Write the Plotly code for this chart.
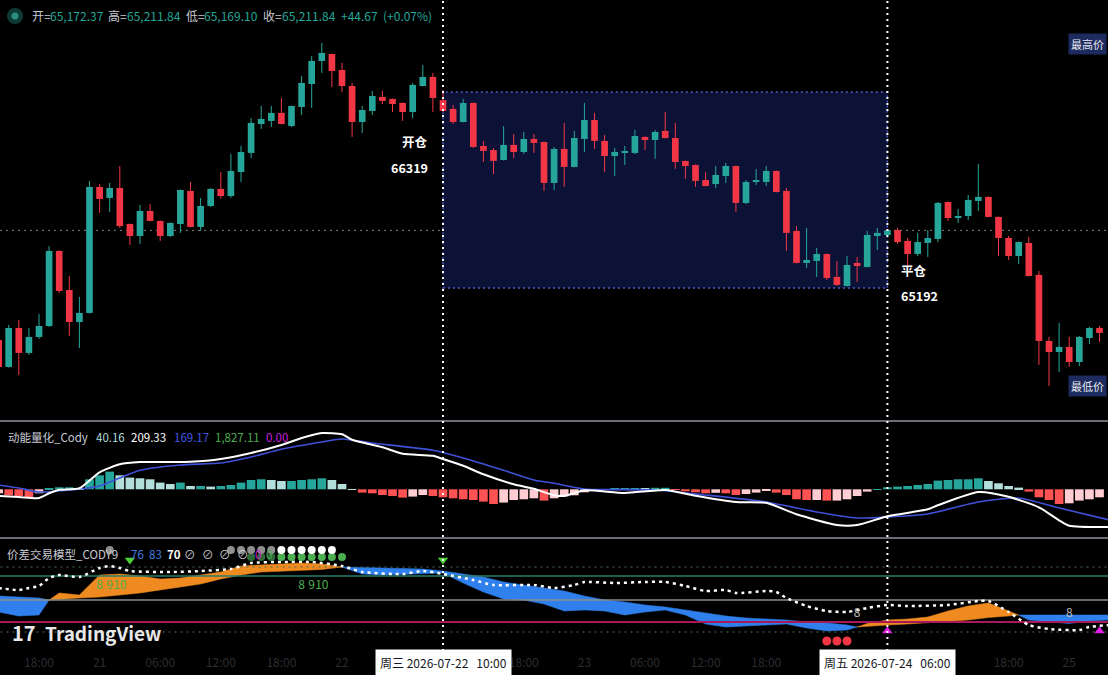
import plotly.graph_objects as go
import pandas as pd

W, H = 1108, 675
FONT = "Noto Sans CJK SC, Noto Sans, DejaVu Sans, sans-serif"

# ---------------- data ----------------
TIMES = pd.date_range("2026-07-20 14:00", periods=111, freq="h")

OPEN = [64280, 64051, 64382, 64170, 64306, 64399, 65037, 64705, 64433, 64510,
        65581, 65487, 65572, 65266, 65164, 65377, 65292, 65164, 65266, 65547,
        65241, 65419, 65564, 65504, 65708, 65870, 66116, 66142, 66210, 66099,
        66261, 66456, 66652, 66711, 66575, 66439, 66133, 66227, 66346, 66329,
        66295, 66218, 66439, 66516, 66319, 66244, 66133, 66295, 65929, 65895,
        65810, 65938, 65878, 65989, 65963, 65615, 65904, 65751, 65989, 66150,
        65972, 65844, 65870, 65870, 66006, 65980, 66057, 65997, 65802, 65768,
        65640, 65606, 65674, 65759, 65445, 65623, 65623, 65717, 65547, 65207,
        64935, 64952, 65011, 64816, 64739, 64935, 64901, 65164, 65172.37, 65215,
        65122, 65011, 65105, 65139, 65453, 65317, 65334, 65462, 65496, 65326,
        65147, 64994, 65105, 64833, 64272, 64178, 64221, 64093, 64297, 64382]
HIGH = [64408, 64408, 64450, 64382, 64501, 65079, 65042, 64824, 64646, 65632,
        65606, 65615, 65759, 65270, 65428, 65436, 65296, 65279, 65559, 65623,
        65487, 65572, 65708, 65861, 65929, 66167, 66269, 66269, 66337, 66273,
        66524, 66694, 66805, 66715, 66635, 66465, 66269, 66397, 66397, 66333,
        66299, 66465, 66618, 66550, 66405, 66278, 66329, 66299, 65972, 65912,
        66099, 66031, 66048, 66031, 65967, 65921, 66125, 66057, 66295, 66210,
        66023, 65912, 65929, 66065, 66010, 66065, 66218, 66125, 65806, 65772,
        65708, 65759, 65785, 65763, 65640, 65734, 65759, 65721, 65572, 65249,
        65232, 65062, 65015, 64952, 64994, 64986, 65207, 65232, 65211.84, 65232,
        65147, 65190, 65215, 65453, 65457, 65394, 65513, 65776, 65500, 65330,
        65164, 65117, 65156, 64867, 64306, 64425, 64306, 64314, 64391, 64399]
LOW = [64008, 64045, 63983, 64153, 64289, 64391, 64680, 64314, 64212, 64505,
       65360, 65368, 65232, 65088, 65096, 65288, 65122, 65156, 65190, 65237,
       65207, 65411, 65479, 65487, 65623, 65827, 66074, 66091, 66112, 66091,
       66193, 66252, 66550, 66431, 66388, 66006, 66040, 66193, 66286, 66218,
       66142, 66167, 66435, 66218, 66218, 66116, 66129, 65912, 65793, 65691,
       65806, 65827, 65861, 65870, 65547, 65555, 65581, 65747, 65878, 65904,
       65708, 65674, 65768, 65861, 65895, 65819, 65993, 65734, 65649, 65581,
       65585, 65572, 65615, 65368, 65436, 65598, 65589, 65534, 65037, 64931,
       64892, 64816, 64790, 64739, 64735, 64773, 64897, 65045, 65169.10, 65096,
       64850, 64994, 64986, 65113, 65292, 65275, 65300, 65377, 65322, 64994,
       64960, 64926, 64820, 64068, 63889, 64008, 64051, 64059, 64246, 64263]
CLOSE = [64051, 64382, 64170, 64306, 64399, 65037, 64697, 64433, 64510, 65581,
         65479, 65572, 65249, 65164, 65377, 65292, 65164, 65275, 65555, 65241,
         65419, 65564, 65504, 65717, 65878, 66125, 66159, 66210, 66116, 66269,
         66465, 66652, 66720, 66567, 66439, 66133, 66235, 66354, 66312, 66286,
         66218, 66448, 66516, 66337, 66227, 66133, 66295, 65921, 65887, 65802,
         65938, 65878, 65989, 65955, 65615, 65904, 65751, 65997, 66150, 65972,
         65844, 65878, 65878, 66014, 65980, 66048, 65997, 65793, 65759, 65632,
         65589, 65683, 65759, 65445, 65623, 65632, 65717, 65538, 65190, 64935,
         64960, 65011, 64807, 64748, 64918, 64909, 65173, 65190, 65211.84, 65113,
         65011, 65113, 65147, 65445, 65317, 65334, 65470, 65496, 65326, 65147,
         64994, 65113, 64824, 64272, 64178, 64221, 64093, 64306, 64382, 64340]

# momentum pane (动能量化_Cody)
MOM_HIST = [-40, -60, -70, -80, -40, 10, 20, 20, 10, 100,
            140, 177, 140, 117, 110, 100, 67, 53, 67, 33,
            33, 27, 33, 43, 67, 93, 100, 93, 83, 83,
            93, 100, 110, 93, 53, 3, -33, -40, -57, -67,
            -83, -73, -57, -67, -80, -90, -100, -107, -123, -147,
            -133, -107, -100, -90, -113, -90, -70, -60, -30, -10,
            -5, 5, 5, 10, 5, 15, 15, -5, -20, -30,
            -40, -35, -40, -57, -47, -33, -17, -33, -57, -100,
            -107, -107, -113, -113, -100, -67, -23, 3, 20, 27,
            33, 43, 53, 87, 93, 100, 100, 110, 83, 60,
            33, 17, -23, -80, -107, -147, -140, -113, -100, -80]
FAST_IDX = [0, 2, 4, 5, 6, 8, 10, 12, 14, 17, 19, 22, 25, 28, 30, 32, 34, 35, 38, 40,
            43, 44, 46, 48, 51, 53, 55, 56, 58, 62, 66, 69, 73, 76, 79, 83, 85, 88, 92, 93,
            97, 100, 103, 105, 106, 110]
FAST = [-67, -77, -87, -40, -5, 10, 170, 250, 272, 273, 275, 303, 363, 443, 513, 563, 550, 495, 420, 355,
        335, 303, 235, 150, 50, 5, -60, -67, -10, -37, -7, -65, -127, -135, -250, -357, -357, -270, -200, -160,
        -27, -75, -180, -310, -365, -378]
SLOW_IDX = [0, 2, 4, 8, 10, 12, 14, 18, 22, 25, 28, 32, 34, 37, 43, 46, 50, 53, 55, 58,
            65, 70, 76, 81, 85, 88, 92, 97, 101, 105, 110]
SLOW = [43, 13, -27, 3, 33, 113, 190, 243, 263, 323, 400, 473, 503, 463, 390, 313, 190, 93, 60, 3,
        -7, -57, -127, -227, -287, -277, -247, -127, -87, -187, -307]

# spread pane (价差交易模型_CODY)
SPR_IDX = [0, 2, 4, 5, 6, 8, 10, 12, 14, 16, 18, 20, 22, 24, 26, 28, 30, 32, 34,
           36, 38, 40, 42, 44, 46, 48, 50, 52, 54, 56, 58, 60, 62, 64, 66, 68, 70, 72, 74, 76, 78, 80, 82, 84,
           85, 86, 88, 90, 92, 94, 96, 98, 100, 101, 102, 104, 106, 108, 110]
SPR_FAST = [38, 34, 35, 50, 57, 55, 75, 76, 74, 71, 72, 75, 78, 84, 85, 86, 87, 86, 83,
            76, 75, 75.5, 76, 77, 67, 58, 51, 50, 46, 39, 40, 39, 35, 38, 40, 35, 26, 23, 24, 25, 26, 22, 19, 20,
            23, 26.5, 30, 31, 33, 39, 44, 47, 39, 35, 30, 28, 26.5, 29, 30]
SPR_SLOW = [54, 53, 52, 50, 51, 52, 53, 55, 57, 60, 63, 66, 71, 75, 78, 79, 79.5, 80.5, 83,
            82.5, 82, 81.5, 81, 79, 76, 73, 68, 65, 62, 59, 54, 50, 48, 45, 43, 40, 37, 34, 32, 31, 30, 28, 27, 25,
            23, 24, 25, 26, 27, 28.5, 30, 32.5, 34, 35, 35, 35, 35, 35, 35]
SPR_MID_IDX = [0, 2, 3, 4, 5, 6, 8, 10, 11, 12, 13, 17, 20, 23, 25, 28, 31, 34, 36, 40,
               42, 44, 47, 49, 53, 55, 57, 58, 61, 64, 66, 68, 70, 72, 73, 76, 77, 78, 80, 82,
               84, 86, 88, 90, 94, 97, 98, 100, 102, 104, 107, 108, 110]
SPR_MID = [62, 60, 62, 64, 72, 75, 73, 82, 84, 82, 79, 78, 79, 81, 87, 88, 88, 84, 78, 76,
           79, 76, 70, 65, 65, 62, 65, 68, 67, 68, 68, 64, 59, 60, 57, 59, 58, 52, 44, 39,
           38, 42, 45, 44, 45, 49, 49, 38, 25, 21, 20, 23, 25]
SPR_LEVELS = [83, 74, 50, 28, 18]
TOP_GRAY_IDX = [11, 23, 24, 25, 26, 27]
TOP_WHITE_IDX = [28, 29, 30, 31, 32, 33]
GREEN_DOT_IDX = [25, 26, 27, 28, 29, 30, 31, 32, 33, 34]
DOWN_TRI_IDX = [13, 44]
UP_TRI_IDX = [88, 109]
RED_DOT_IDX = [82, 83, 84]
COUNT_IDX = [10, 11, 12, 30, 31, 32]
COUNT_TXT = ["8", "9", "10", "8", "9", "10"]
COUNT2_IDX = [85, 106]
COUNT2_TXT = ["8", "8"]

ENTRY_IDX, EXIT_IDX = 44, 88
ENTRY_PRICE, EXIT_PRICE = 66319, 65192
RANGE_HIGH, RANGE_LOW = 66388, 64722
CROSS_PRICE = 65211.84

TICK_IDX = [4, 10, 16, 22, 28, 34, 52, 58, 64, 70, 76, 100, 106]
TICK_TEXT = ["18:00", "21", "06:00", "12:00", "18:00", "22", "18:00",
             "23", "06:00", "12:00", "18:00", "18:00", "25"]

# ---------------- style ----------------
GREEN = "#26a69a"
RED = "#f23645"
ORANGE = "#ee8a1f"
BLUE = "#2f80ed"
HOUR = 3600 * 1000


def px(x):
    return x / W


def py(y):
    return 1 - y / H


t = list(TIMES)
N = len(OPEN)
fig = go.Figure()

# ---- candles ----
up = [i for i in range(N) if CLOSE[i] >= OPEN[i]]
dn = [i for i in range(N) if CLOSE[i] < OPEN[i]]
for ids, col in ((up, GREEN), (dn, RED)):
    xs, ys = [], []
    for i in ids:
        xs += [t[i], t[i], None]
        ys += [LOW[i], HIGH[i], None]
    fig.add_trace(go.Scatter(x=xs, y=ys, mode="lines", line=dict(color=col, width=1),
                             yaxis="y", hoverinfo="skip"))
    fig.add_trace(go.Bar(x=[t[i] for i in ids],
                         y=[max(abs(CLOSE[i] - OPEN[i]), 9) for i in ids],
                         base=[min(OPEN[i], CLOSE[i]) for i in ids],
                         width=0.66 * HOUR, marker=dict(color=col, line=dict(width=0)),
                         yaxis="y", hoverinfo="skip"))

# ---- momentum pane ----
hcols = []
for i, v in enumerate(MOM_HIST):
    prev = MOM_HIST[i - 1] if i > 0 else v
    if v >= 0:
        hcols.append("#26a69a" if v >= prev else "#b2dfdb")
    else:
        hcols.append("#ffcdd2" if v >= prev else "#ff5252")
fig.add_trace(go.Bar(x=t[:N], y=MOM_HIST, width=0.86 * HOUR, marker=dict(color=hcols, line=dict(width=0)),
                     yaxis="y2", hoverinfo="skip"))
fig.add_trace(go.Scatter(x=[t[i] for i in SLOW_IDX], y=SLOW, mode="lines",
                         line=dict(color="#3f51d9", width=1.6, shape="spline", smoothing=0.6),
                         yaxis="y2", hoverinfo="skip"))
fig.add_trace(go.Scatter(x=[t[i] for i in FAST_IDX], y=FAST, mode="lines",
                         line=dict(color="#ffffff", width=2, shape="spline", smoothing=0.6),
                         yaxis="y2", hoverinfo="skip"))

# ---- spread pane ----
cuts = [0] + [k for k in range(1, len(SPR_IDX) - 1) if SPR_FAST[k] == SPR_SLOW[k]] + [len(SPR_IDX) - 1]
for s, e in zip(cuts[:-1], cuts[1:]):
    ks = list(range(s, e + 1))
    mid = ks[len(ks) // 2]
    col = ORANGE if SPR_FAST[mid] > SPR_SLOW[mid] else BLUE
    xs = [t[SPR_IDX[k]] for k in ks] + [t[SPR_IDX[k]] for k in reversed(ks)]
    ys = [SPR_FAST[k] for k in ks] + [SPR_SLOW[k] for k in reversed(ks)]
    fig.add_trace(go.Scatter(x=xs, y=ys, mode="lines", fill="toself", fillcolor=col,
                             line=dict(color=col, width=0.5), yaxis="y3", hoverinfo="skip"))

lvl_style = [("#50705c", "2px,4px", 1), ("#2a7d6c", "solid", 1.5), ("#8c8c8c", "solid", 1.5),
             ("#a8195c", "solid", 2), ("#50705c", "2px,4px", 1)]
for lv, (c, d, w) in zip(SPR_LEVELS, lvl_style):
    fig.add_trace(go.Scatter(x=[t[0] - pd.Timedelta(hours=1), t[-1] + pd.Timedelta(hours=1)], y=[lv, lv],
                             mode="lines", line=dict(color=c, dash=d, width=w), yaxis="y3", hoverinfo="skip"))

fig.add_trace(go.Scatter(x=[t[i] for i in SPR_MID_IDX], y=SPR_MID, mode="lines",
                         line=dict(color="#ffffff", width=2.5, dash="3px,4px", shape="spline", smoothing=0.6),
                         yaxis="y3", hoverinfo="skip"))

green_cols = ["#2e6a38" if i in TOP_GRAY_IDX else "#4caf50" for i in GREEN_DOT_IDX]
fig.add_trace(go.Scatter(x=[t[i] for i in GREEN_DOT_IDX], y=[93] * len(GREEN_DOT_IDX), mode="markers",
                         marker=dict(color=green_cols, size=8, line=dict(width=0)), yaxis="y3", hoverinfo="skip"))
fig.add_trace(go.Scatter(x=[t[i] for i in TOP_GRAY_IDX], y=[100] * len(TOP_GRAY_IDX), mode="markers",
                         marker=dict(color="#8f8f8f", size=8, line=dict(width=0)), yaxis="y3", hoverinfo="skip"))
fig.add_trace(go.Scatter(x=[t[i] for i in TOP_WHITE_IDX], y=[100] * len(TOP_WHITE_IDX), mode="markers",
                         marker=dict(color="#ffffff", size=8, line=dict(width=0)), yaxis="y3", hoverinfo="skip"))
fig.add_trace(go.Scatter(x=[t[i] for i in DOWN_TRI_IDX], y=[90] * len(DOWN_TRI_IDX), mode="markers",
                         marker=dict(color="#4cd137", size=9, symbol="triangle-down", line=dict(width=0)),
                         yaxis="y3", hoverinfo="skip"))
fig.add_trace(go.Scatter(x=[t[i] for i in UP_TRI_IDX], y=[19] * len(UP_TRI_IDX), mode="markers",
                         marker=dict(color="#e21fe6", size=9, symbol="triangle-up", line=dict(width=0)),
                         yaxis="y3", hoverinfo="skip"))
fig.add_trace(go.Scatter(x=[t[i] for i in RED_DOT_IDX], y=[9] * len(RED_DOT_IDX), mode="markers",
                         marker=dict(color="#f23645", size=9, line=dict(width=0)), yaxis="y3", hoverinfo="skip"))
fig.add_trace(go.Scatter(x=[t[i] for i in COUNT_IDX], y=[64] * len(COUNT_IDX), mode="text", text=COUNT_TXT,
                         textfont=dict(color="#4caf50", size=12, family=FONT), yaxis="y3", hoverinfo="skip"))
fig.add_trace(go.Scatter(x=[t[i] for i in COUNT2_IDX], y=[36] * len(COUNT2_IDX), mode="text", text=COUNT2_TXT,
                         textfont=dict(color="#bdbdbd", size=12, family=FONT), yaxis="y3", hoverinfo="skip"))

# ---------------- shapes ----------------
shapes = [
    dict(type="rect", xref="x", yref="y", x0=t[ENTRY_IDX], x1=t[EXIT_IDX], y0=RANGE_LOW, y1=RANGE_HIGH,
         fillcolor="#0b1236", line=dict(color="#4c5cc9", width=1.5, dash="2px,3px"), layer="below"),
    dict(type="line", xref="paper", yref="y", x0=0, x1=1, y0=CROSS_PRICE, y1=CROSS_PRICE,
         line=dict(color="#7d8088", width=1, dash="2px,4px"), layer="below"),
    dict(type="line", xref="paper", yref="paper", x0=0, x1=1, y0=py(421), y1=py(421),
         line=dict(color="#6a6d74", width=2)),
    dict(type="line", xref="paper", yref="paper", x0=0, x1=1, y0=py(538), y1=py(538),
         line=dict(color="#6a6d74", width=2)),
    dict(type="circle", xref="paper", yref="paper", x0=px(7), x1=px(23), y0=py(24), y1=py(8),
         fillcolor="#0e3a34", line=dict(width=0)),
    dict(type="circle", xref="paper", yref="paper", x0=px(11.5), x1=px(18.5), y0=py(19.5), y1=py(12.5),
         fillcolor="#2a8f80", line=dict(width=0)),
]
for i in (ENTRY_IDX, EXIT_IDX):
    shapes.append(dict(type="line", xref="x", yref="paper", x0=t[i], x1=t[i], y0=py(651), y1=1,
                       line=dict(color="#ffffff", width=2, dash="2px,4px"), layer="above"))

# ---------------- annotations ----------------
anns = []


def ann(text, x, y, color, size=12, anchor="left", **kw):
    d = dict(text=text, x=px(x), y=py(y), xref="paper", yref="paper", xanchor=anchor, yanchor="middle",
             showarrow=False, font=dict(color=color, size=size, family=FONT))
    d.update(kw)
    anns.append(d)


LBL = "#c8cad1"
ann("开=", 30, 16, LBL)
ann("65,172.37", 48, 16, GREEN)
ann("高=", 106, 16, LBL)
ann("65,211.84", 125, 16, GREEN)
ann("低=", 184, 16, LBL)
ann("65,169.10", 202, 16, GREEN)
ann("收=", 261, 16, LBL)
ann("65,211.84", 280, 16, GREEN)
ann("+44.67", 339, 16, GREEN)
ann("(+0.07%)", 381, 16, GREEN)

ann("动能量化_Cody", 6, 437, LBL, 11.5)
ann("40.16", 94, 437, "#b2dfdb", 11.5)
ann("209.33", 129, 437, "#ffffff", 11.5)
ann("169.17", 172, 437, "#4056e0", 11.5)
ann("1,827.11", 213, 437, "#4caf50", 11.5)
ann("0.00", 264, 437, "#d21ee0", 11.5)

ann("价差交易模型_CODY9", 5, 554, LBL, 11.5)
ann("76", 129, 554, "#3d7fe0", 11.5)
ann("83", 147, 554, "#3d7fe0", 11.5)
ann("<b>70</b>", 165, 554, "#ffffff", 11.5)
for xx in (182, 200, 217, 235):
    ann("⊘", xx, 554, "#d0d0d0", 11.5)
ann("0", 253, 554, "#d21ee0", 11.5)
ann("0", 264, 554, "#4caf50", 11.5)

ann("<b>开仓</b>", 430, 142, "#ffffff", 12.5, anchor="right")
ann("<b>66319</b>", 430, 167, "#ffffff", 12.5, anchor="right")
ann("<b>平仓</b>", 899, 270, "#ffffff", 12.5)
ann("<b>65192</b>", 899, 295, "#ffffff", 12.5)

ann("最高价", 1087, 44, "#e6e8f0", 11, anchor="center", bgcolor="#1d2b5e", borderpad=2)
ann("最低价", 1087, 386, "#e6e8f0", 11, anchor="center", bgcolor="#1d2b5e", borderpad=2)

ann("<b>17</b>", 10, 632, "#e8e8e8", 20)
ann("<b>TradingView</b>", 43, 632, "#e8e8e8", 19)

for i, txt in ((ENTRY_IDX, "周三 2026-07-22\u00a0\u00a0\u00a010:00"), (EXIT_IDX, "周五 2026-07-24\u00a0\u00a0\u00a006:00")):
    anns.append(dict(text=txt, x=t[i], y=py(662.5), xref="x", yref="paper", xanchor="center",
                     yanchor="middle", showarrow=False, bgcolor="#ffffff", borderpad=4,
                     font=dict(color="#131722", size=12, family=FONT)))

x0 = t[0] + pd.Timedelta(hours=0.139)
x1 = t[0] + pd.Timedelta(hours=109.84)

fig.update_layout(
    width=W, height=H, margin=dict(l=0, r=0, t=0, b=0),
    paper_bgcolor="#000000", plot_bgcolor="#000000",
    showlegend=False, barmode="overlay", hovermode=False,
    shapes=shapes, annotations=anns,
    xaxis=dict(type="date", range=[x0, x1], anchor="y3", showgrid=False, zeroline=False, showline=False,
               tickvals=[t[i] for i in TICK_IDX], ticktext=TICK_TEXT, ticks="", ticklabelstandoff=6,
               tickfont=dict(color="#2c2d31", size=12, family=FONT)),
    yaxis=dict(domain=[py(421), 1], range=[63591.5, 67170], visible=False),
    yaxis2=dict(domain=[py(538), py(421)], range=[-487, 683], visible=False),
    yaxis3=dict(domain=[py(648), py(538)], range=[2, 112], visible=False),
)

fig.write_html("out.html", config={"displayModeBar": False},
               post_script="document.body.style.margin='0';document.body.style.background='#000';")
